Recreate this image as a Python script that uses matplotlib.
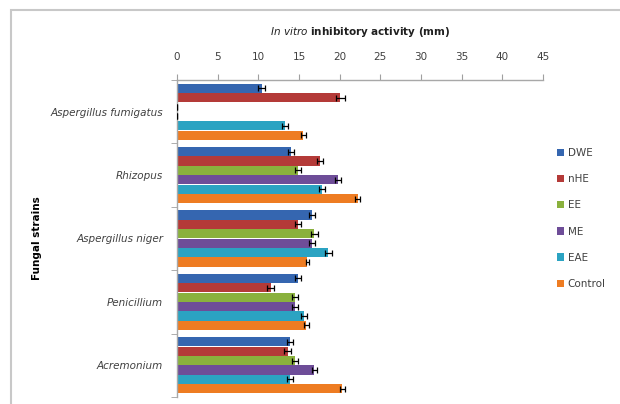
import matplotlib.pyplot as plt
import matplotlib.patches as mpatches
import numpy as np

strains = ["Aspergillus fumigatus", "Rhizopus", "Aspergillus niger", "Penicillium", "Acremonium"]
extracts = ["DWE", "nHE", "EE", "ME", "EAE", "Control"]

dwe = [10.4, 14.0, 16.6, 14.9, 13.9]
nhe = [20.1, 17.6, 14.9, 11.5, 13.6]
ee = [0.0, 14.9, 16.9, 14.5, 14.5]
me = [0.0, 19.8, 16.6, 14.5, 16.9]
eae = [13.3, 17.8, 18.6, 15.6, 13.9]
control = [15.5, 22.2, 16.0, 15.9, 20.3]

dwe_err = [0.4, 0.4, 0.4, 0.4, 0.4]
nhe_err = [0.5, 0.4, 0.4, 0.4, 0.4]
ee_err = [0.0, 0.4, 0.4, 0.4, 0.4]
me_err = [0.0, 0.4, 0.4, 0.4, 0.3]
eae_err = [0.4, 0.4, 0.4, 0.4, 0.4]
control_err = [0.3, 0.3, 0.2, 0.3, 0.3]

series = [dwe, nhe, ee, me, eae, control]
errors = [dwe_err, nhe_err, ee_err, me_err, eae_err, control_err]
colors = ["#3566b0", "#b43a38", "#8ab13d", "#6e4d98", "#2ba3c2", "#ee7c22"]

fig = plt.figure(figsize=(6.2, 4.04), dpi=100)
ax = fig.add_axes([177 / 620, 1 - 397 / 404, 366 / 620, 317 / 404])

y = np.arange(len(strains))
h = 0.148
for i, (vals, errs, c, name) in enumerate(zip(series, errors, colors, extracts)):
    pos = y - 2.5 * h + i * h
    ax.barh(pos, vals, height=h * 0.97, color=c, label=name, zorder=2)
    ax.errorbar(vals, pos, xerr=errs, fmt="none", ecolor="black",
                elinewidth=0.9, capsize=2.2, capthick=0.9, zorder=3)

ax.set_xlim(0, 45)
ax.set_ylim(4.5, -0.5)
ax.set_xticks(np.arange(0, 46, 5))
ax.xaxis.tick_top()
ax.xaxis.set_label_position("top")
ax.set_yticks(y)
ax.set_yticklabels(strains, fontstyle="italic", fontsize=7.5, color="#404040")
ax.set_yticks(np.arange(-0.5, 5, 1), minor=True)
ax.tick_params(axis="y", which="major", length=0, pad=10)
ax.tick_params(axis="y", which="minor", length=4, color="#a0a0a0", direction="out")
ax.tick_params(axis="x", length=4, color="#a0a0a0", direction="out",
               labelsize=7.5, labelcolor="#404040", pad=9)

ax.spines["right"].set_visible(False)
ax.spines["bottom"].set_visible(False)
for s in ("top", "left"):
    ax.spines[s].set_color("#a8a8a8")
    ax.spines[s].set_linewidth(1.0)

ax.set_xlabel(r"$\it{In\ vitro}$ inhibitory activity (mm)", fontsize=7.5,
              fontweight="bold", color="#202020", labelpad=12)
fig.text(37 / 620, 1 - 238 / 404, "Fungal strains", rotation=90, fontsize=7.5,
         fontweight="bold", ha="center", va="center")

ax.legend(loc="upper left", bbox_to_anchor=(553 / 620, 1 - 144 / 404),
          bbox_transform=fig.transFigure, frameon=False, fontsize=7.5,
          handlelength=0.7, handleheight=0.7, handletextpad=0.3,
          labelspacing=1.55, borderaxespad=0, labelcolor="#404040")

# chart area border
fig.add_artist(mpatches.Rectangle((11 / 620, -0.2), 1.2, 1.2 - 10 / 404,
                                  transform=fig.transFigure, fill=False,
                                  edgecolor="#c8c8c8", linewidth=1.5, clip_on=False))

fig.savefig("out.png", dpi=100)
